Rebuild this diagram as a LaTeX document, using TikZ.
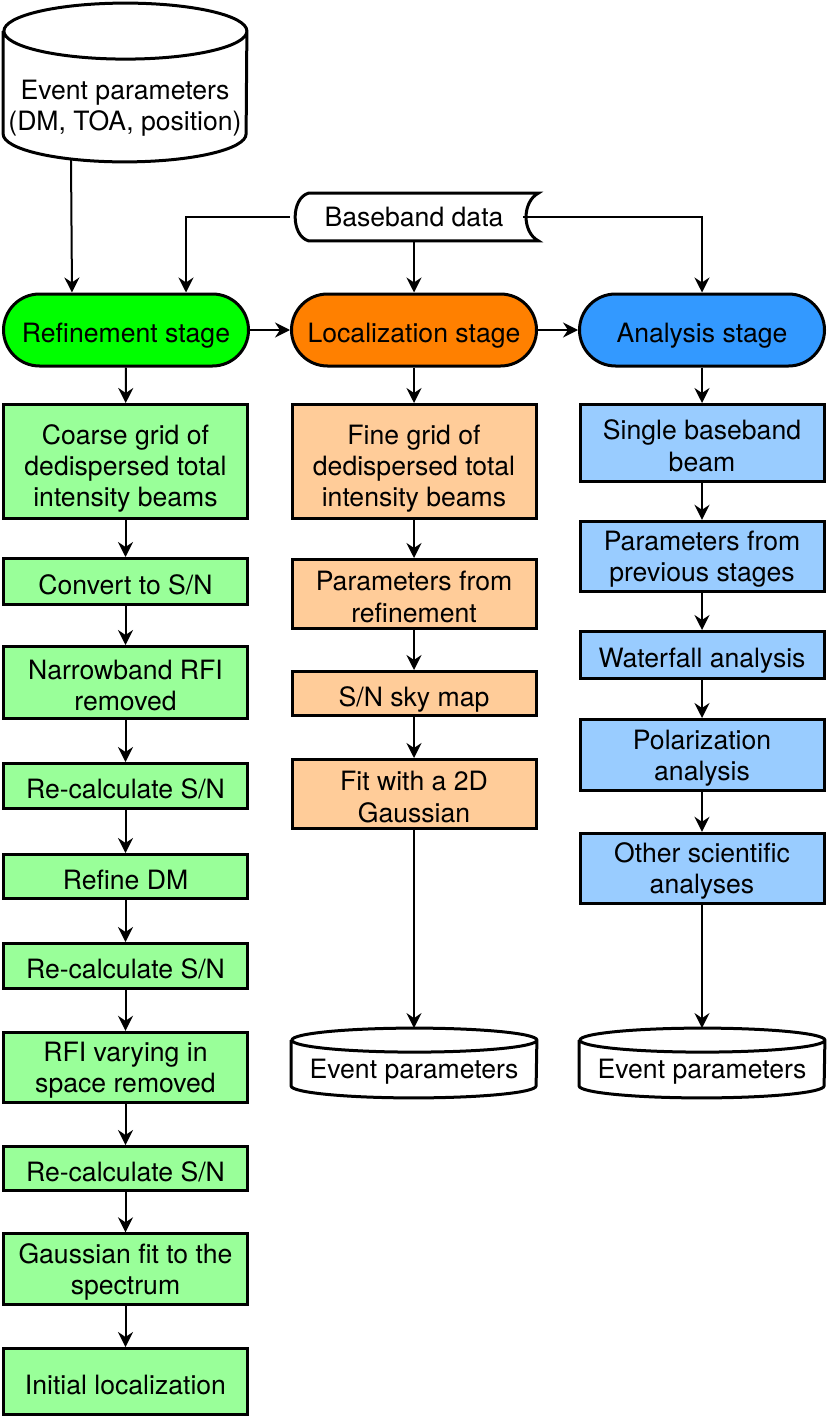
\documentclass[tikz,border=0pt]{standalone}
\usepackage{fontspec}
\setmainfont{TeX Gyre Heros}
\usetikzlibrary{arrows.meta,positioning,shapes.geometric}

\definecolor{refgreen}{HTML}{00FF00}
\definecolor{locorange}{HTML}{FF8000}
\definecolor{anablue}{HTML}{3399FF}
\definecolor{lightgreen}{HTML}{99FF99}
\definecolor{lightorange}{HTML}{FFCC99}
\definecolor{lightblue}{HTML}{99CCFF}

\begin{document}
\begin{tikzpicture}[x=0.5pt,y=-0.5pt,
    font=\fontsize{13.3}{15.6}\selectfont,
    lowered/.style={text depth=0pt, execute at begin node={\rule{0pt}{12.5pt}}},
    twolines/.style={text height=28.3pt, text depth={}},
    threelines/.style={text height=45.4pt},
    box/.style={draw, line width=1.5pt, align=center, minimum width=122pt, inner sep=2pt, lowered},
    stage/.style={draw, line width=1.5pt, rounded corners=18pt, minimum width=122.5pt, minimum height=36pt, lowered},
    store/.style={inner sep=0pt},
    arr/.style={-{Stealth[length=7.5pt,width=7.5pt,inset=2.5pt]}, line width=1pt}]

    % Fix the page size
    \useasboundingbox (0,0) rectangle (830,1423);

    % Inputs
    \node[store, minimum width=121.5pt, minimum height=79pt] (evt) at (125,82.5) {};
    \draw[line width=1.5pt] ([yshift=-14pt]evt.north west) -- ([yshift=14pt]evt.south west)
        arc[start angle=180, end angle=360, x radius=60.75pt, y radius=14pt]
        -- ([yshift=-14pt]evt.north east)
        arc[start angle=0, end angle=360, x radius=60.75pt, y radius=14pt];
    \node[align=center] (evtlabel) at (125,108.5) {Event parameters\\(DM, TOA, position)};

    \node[minimum width=124pt, minimum height=23.5pt] (bb) at (414,217) {Baseband data};
    \draw[line width=1.5pt] ([xshift=9.5pt]bb.north west) -- (bb.north east)
        to[bend right=62] (bb.south east)
        -- ([xshift=9.5pt]bb.south west) to[bend left=74] cycle;

    % The three stages
    \node[stage, fill=refgreen] (ref) at (126,330) {Refinement stage};
    \node[stage, fill=locorange] (loc) at (414,330) {Localization stage};
    \node[stage, fill=anablue] (ana) at (702,330) {Analysis stage};

    % Refinement steps
    \node[box, threelines, fill=lightgreen, minimum height=57pt] (g1) at (125.5,461.5) {Coarse grid of\\dedispersed total\\intensity beams};
    \node[box, fill=lightgreen, minimum height=23pt] (g2) at (125.5,581.5) {Convert to S/N};
    \node[box, twolines, fill=lightgreen, minimum height=36pt] (g3) at (125.5,682.5) {Narrowband RFI\\removed};
    \node[box, fill=lightgreen, minimum height=22.5pt] (g4) at (125.5,786) {Re-calculate S/N};
    \node[box, fill=lightgreen, minimum height=22pt] (g5) at (125.5,876.5) {Refine DM};
    \node[box, fill=lightgreen, minimum height=22.5pt] (g6) at (125.5,966) {Re-calculate S/N};
    \node[box, twolines, fill=lightgreen, minimum height=33pt] (g7) at (125.5,1067.5) {RFI varying in\\space removed};
    \node[box, fill=lightgreen, minimum height=22pt] (g8) at (125.5,1168.5) {Re-calculate S/N};
    \node[box, twolines, fill=lightgreen, minimum height=34.5pt] (g9) at (125.5,1269) {Gaussian fit to the\\spectrum};
    \node[box, fill=lightgreen, minimum height=33pt] (g10) at (125.5,1381.5) {Initial localization};

    % Localization steps
    \node[box, threelines, fill=lightorange, minimum height=57pt] (o1) at (414,461.5) {Fine grid of\\dedispersed total\\intensity beams};
    \node[box, twolines, fill=lightorange, minimum height=34.5pt] (o2) at (414,594) {Parameters from\\refinement};
    \node[box, fill=lightorange, minimum height=22pt] (o3) at (414,693.5) {S/N sky map};
    \node[box, twolines, fill=lightorange, minimum height=34.5pt] (o4) at (414,794) {Fit with a 2D\\Gaussian};
    \node[store, minimum width=122.5pt, minimum height=34.5pt] (oout) at (414,1063) {};
    \draw[line width=1.5pt] ([yshift=-6pt]oout.north west) -- ([yshift=6pt]oout.south west)
        arc[start angle=180, end angle=360, x radius=61.25pt, y radius=6pt]
        -- ([yshift=-6pt]oout.north east)
        arc[start angle=0, end angle=360, x radius=61.25pt, y radius=6pt];
    \node (ooutlabel) at (414,1072) {Event parameters};

    % Analysis steps
    \node[box, twolines, fill=lightblue, minimum height=38.5pt] (b1) at (702,443) {Single baseband\\beam};
    \node[box, twolines, fill=lightblue, minimum height=35pt] (b2) at (702,556.5) {Parameters from\\previous stages};
    \node[box, fill=lightblue, minimum height=23.5pt] (b3) at (702,655) {Waterfall analysis};
    \node[box, twolines, fill=lightblue, minimum height=35.5pt] (b4) at (702,755) {Polarization\\analysis};
    \node[box, twolines, fill=lightblue, minimum height=35pt] (b5) at (702,868.5) {Other scientific\\analyses};
    \node[store, minimum width=122.5pt, minimum height=34.5pt] (aout) at (702,1063) {};
    \draw[line width=1.5pt] ([yshift=-6pt]aout.north west) -- ([yshift=6pt]aout.south west)
        arc[start angle=180, end angle=360, x radius=61.25pt, y radius=6pt]
        -- ([yshift=-6pt]aout.north east)
        arc[start angle=0, end angle=360, x radius=61.25pt, y radius=6pt];
    \node (aoutlabel) at (702,1072) {Event parameters};

    % Connections from the inputs
    \draw[arr] ([xshift=-27pt,yshift=1.5pt]evt.south) -- ([xshift=-27pt]ref.north);
    \draw[arr] (bb.west) -| ([xshift=30pt]ref.north);
    \draw[arr] (bb.south) -- (loc.north);
    \draw[arr] ([xshift=-7.5pt]bb.east) -| (ana.north);
    \draw[arr] (ref) -- (loc);
    \draw[arr] (loc) -- (ana);

    % Chains of steps
    \foreach \a/\b in {ref/g1,g1/g2,g2/g3,g3/g4,g4/g5,g5/g6,g6/g7,g7/g8,g8/g9,g9/g10,
                       loc/o1,o1/o2,o2/o3,o3/o4,ana/b1,b1/b2,b2/b3,b3/b4,b4/b5}
        \draw[arr] (\a) -- (\b);
    \draw[arr] (o4.south) -- (oout.north);
    \draw[arr] (b5.south) -- (aout.north);
\end{tikzpicture}
\end{document}
